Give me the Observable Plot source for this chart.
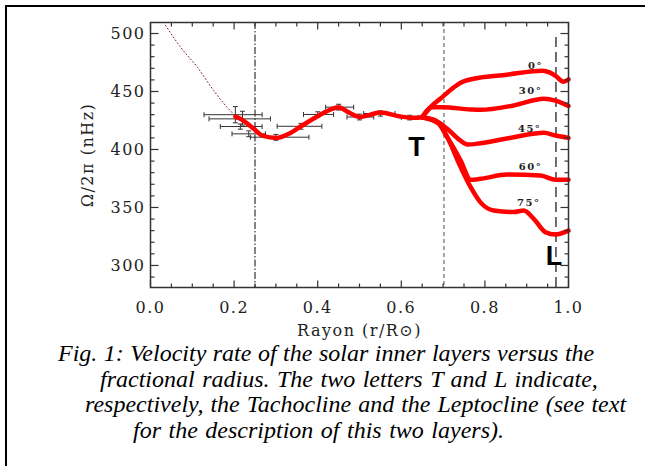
<!DOCTYPE html>
<html><head><meta charset="utf-8">
<script src="https://cdn.jsdelivr.net/npm/d3@7"></script>
<script src="https://cdn.jsdelivr.net/npm/@observablehq/plot@0.6"></script>
<style>
html,body{margin:0;padding:0;background:#fff;}
#wrap{position:relative;width:645px;height:466px;overflow:hidden;}
#border{position:absolute;left:5px;top:5px;width:700px;height:500px;border-left:2px solid #000;border-top:2px solid #000;}
#chart{position:absolute;left:0;top:0;}
.cap{position:absolute;font-family:"Liberation Serif","Times New Roman",serif;font-style:italic;font-size:24px;line-height:24px;white-space:nowrap;color:#000;}
</style></head>
<body>
<div id="wrap">
  <div id="border"></div>
  <div id="chart"></div>
  <div class="cap" style="left:58px;top:341px;word-spacing:0.5px">Fig. 1: Velocity rate of the solar inner layers versus the</div>
  <div class="cap" style="left:100px;top:367px;word-spacing:1.5px">fractional radius. The two letters T and L indicate,</div>
  <div class="cap" style="left:85px;top:392px;word-spacing:1px">respectively, the Tachocline and the Leptocline (see text</div>
  <div class="cap" style="left:133px;top:418px;word-spacing:1.5px">for the description of this two layers).</div>
</div>
<script>
// ---- data ----
const xMajorTicks = [0, 0.2, 0.4, 0.6, 0.8, 1.0];
const xMinorTicks = [0.05, 0.1, 0.15, 0.25, 0.3, 0.35, 0.45, 0.5, 0.55, 0.65, 0.7, 0.75, 0.85, 0.9, 0.95];
const yMajorTicks = [300, 350, 400, 450, 500];
const yMinorTicks = [290, 310, 320, 330, 340, 360, 370, 380, 390, 410, 420, 430, 440, 460, 470, 480, 490];

const mainR     = [0.203, 0.215, 0.247, 0.267, 0.303, 0.331, 0.363, 0.403, 0.431, 0.450, 0.474, 0.502, 0.526, 0.550, 0.598, 0.630, 0.650];
const mainOmega = [428.4, 426.5, 417.8, 412.0, 410.0, 413.5, 420.7, 429.3, 434.5, 436.5, 432.0, 428.0, 430.0, 432.0, 428.4, 427.3, 427.8];

const lat0R      = [0.650, 0.670, 0.694, 0.720, 0.742, 0.773, 0.853, 0.937, 0.955, 0.969, 0.988, 1.000];
const lat0Omega  = [427.8, 436.5, 444.0, 452.0, 457.5, 461.0, 464.5, 468.0, 466.5, 463.5, 458.5, 460.5];
const lat30R     = [0.650, 0.660, 0.672, 0.700, 0.766, 0.789, 0.869, 0.941, 0.969, 1.000];
const lat30Omega = [427.8, 433.0, 436.5, 436.5, 434.5, 434.2, 438.0, 443.7, 442.2, 437.5];
const lat45R     = [0.650, 0.682, 0.710, 0.740, 0.758, 0.789, 0.869, 0.941, 0.969, 1.000];
const lat45Omega = [427.8, 425.0, 417.8, 408.0, 404.3, 405.4, 410.6, 414.4, 412.0, 410.0];
const lat60R     = [0.650, 0.686, 0.710, 0.742, 0.766, 0.789, 0.853, 0.933, 0.969, 1.000];
const lat60Omega = [427.8, 423.5, 410.6, 390.5, 373.9, 374.7, 378.4, 377.6, 373.9, 374.0];
const lat75R     = [0.650, 0.690, 0.710, 0.742, 0.766, 0.789, 0.821, 0.869, 0.893, 0.917, 0.945, 0.969, 1.000];
const lat75Omega = [427.8, 422.2, 410.6, 384.8, 367.5, 354.6, 347.4, 346.0, 347.4, 340.2, 328.7, 326.7, 330.0];

const dotR     = [0.036, 0.072, 0.112, 0.151, 0.183, 0.200];
const dotOmega = [507.0, 488.2, 471.0, 450.9, 436.5, 430.0];

// error bars: point, horizontal extent, vertical extent
const errR     = [0.203, 0.220, 0.215, 0.235, 0.300, 0.360, 0.400, 0.450, 0.500, 0.550, 0.620];
const errOmega = [430.0, 426.4, 419.8, 413.5, 410.6, 420.0, 430.2, 436.5, 428.0, 431.0, 427.5];
const errRlo   = [0.128, 0.140, 0.167, 0.195, 0.239, 0.303, 0.366, 0.419, 0.470, 0.510, 0.600];
const errRhi   = [0.267, 0.287, 0.267, 0.275, 0.379, 0.410, 0.438, 0.486, 0.534, 0.585, 0.640];
const errOlo   = [423.0, 421.0, 417.5, 411.0, 408.0, 417.5, 427.8, 434.0, 425.5, 428.8, 425.5];
const errOhi   = [437.0, 433.0, 422.0, 416.0, 413.0, 422.5, 432.5, 439.0, 430.5, 433.2, 429.5];

const latLabels = ["0°", "30°", "45°", "60°", "75°"];
const latLabelR = [0.921, 0.909, 0.907, 0.909, 0.905];
const latLabelO = [472.4, 451.0, 417.8, 384.8, 353.7];

const layerLetters = ["T", "L"];
const layerR = [0.638, 0.967];
const layerO = [401.7, 307.8];

const dashDotR = 0.25, tachoR = 0.702, leptoR = 0.97;

// ---- build tables ----
const series = [
  ["main", mainR, mainOmega], ["0", lat0R, lat0Omega], ["30", lat30R, lat30Omega],
  ["45", lat45R, lat45Omega], ["60", lat60R, lat60Omega], ["75", lat75R, lat75Omega]
];
const lines = series.flatMap(([s, R, O]) => R.map((r, i) => ({series: s, r, omega: O[i]})));
const dotted = dotR.map((r, i) => ({r, omega: dotOmega[i]}));
const errs = errR.map((r, i) => ({r, omega: errOmega[i], rlo: errRlo[i], rhi: errRhi[i], olo: errOlo[i], ohi: errOhi[i]}));
const capsH = errs.flatMap(d => [{r: d.rlo, omega: d.omega}, {r: d.rhi, omega: d.omega}]);
const capsV = errs.flatMap(d => [{r: d.r, omega: d.olo}, {r: d.r, omega: d.ohi}]);
const lab = latLabels.map((t, i) => ({t, r: latLabelR[i], omega: latLabelO[i]}));
const letters = layerLetters.map((t, i) => ({t, r: layerR[i], omega: layerO[i]}));

// symbols (length = r in px)
const len = s => Math.sqrt(s / Math.PI);
const vbar = {draw(c, s) { const h = len(s) / 2; c.moveTo(0, -h); c.lineTo(0, h); }};
const hbar = {draw(c, s) { const h = len(s) / 2; c.moveTo(-h, 0); c.lineTo(h, 0); }};
const tickUp = {draw(c, s) { c.moveTo(0, 0); c.lineTo(0, -len(s)); }};
const tickDown = {draw(c, s) { c.moveTo(0, 0); c.lineTo(0, len(s)); }};
const tickRight = {draw(c, s) { c.moveTo(0, 0); c.lineTo(len(s), 0); }};
const tickLeft = {draw(c, s) { c.moveTo(0, 0); c.lineTo(-len(s), 0); }};

const axisCol = "#333";
const tk = (data, ch, anchor, sym, r) => Plot.dot(data, {[ch]: d => d, frameAnchor: anchor, symbol: sym, r, stroke: axisCol, strokeWidth: 1.2, fill: "none"});

const plot = Plot.plot({
  width: 645, height: 340,
  marginLeft: 150, marginRight: 77, marginTop: 22, marginBottom: 53,
  x: {domain: [0, 1], ticks: xMajorTicks, tickSize: 0, tickPadding: 14, tickFormat: d3.format(".1f"), label: null},
  y: {domain: [281, 509.5], ticks: yMajorTicks, tickSize: 0, tickPadding: 5, tickFormat: d3.format("d"), label: null},
  style: {fontFamily: "DejaVu Serif", fontSize: "16px", letterSpacing: "1.5px", color: "#222", background: "transparent"},
  marks: [
    Plot.ruleX([dashDotR], {stroke: "#333", strokeWidth: 1.2, strokeDasharray: "7,2,1.5,2"}),
    Plot.ruleX([tachoR], {stroke: "#777", strokeWidth: 1.3, strokeDasharray: "4,3"}),
    Plot.ruleX([leptoR], {y1: 281, y2: 500, stroke: "#222", strokeWidth: 1.3, strokeDasharray: "10,5"}),
    Plot.line(dotted, {x: "r", y: "omega", stroke: "#7a1a1a", strokeWidth: 1, strokeDasharray: "1,2.5", curve: "monotone-x"}),
    Plot.link(errs, {x1: "rlo", x2: "rhi", y1: "omega", y2: "omega", stroke: "#333", strokeWidth: 1}),
    Plot.link(errs, {x1: "r", x2: "r", y1: "olo", y2: "ohi", stroke: "#333", strokeWidth: 1}),
    Plot.dot(capsH, {x: "r", y: "omega", symbol: vbar, r: 5, stroke: "#333", strokeWidth: 1}),
    Plot.dot(capsV, {x: "r", y: "omega", symbol: hbar, r: 5, stroke: "#333", strokeWidth: 1}),
    Plot.line(lines, {x: "r", y: "omega", z: "series", stroke: "#f00", strokeWidth: 4.5, curve: "monotone-x", strokeLinejoin: "round", strokeLinecap: "round"}),
    Plot.text(lab, {x: "r", y: "omega", text: "t", fontSize: 10, fontWeight: "bold", fill: "#222"}),
    Plot.text(letters, {x: "r", y: "omega", text: "t", fontSize: 27, fontWeight: "bold", fontFamily: "Liberation Sans", fill: "#000"}),
    Plot.frame({stroke: axisCol, strokeWidth: 1.5}),
    tk(xMinorTicks, "x", "bottom", tickUp, 4),
    tk(xMajorTicks, "x", "bottom", tickUp, 7),
    tk(xMinorTicks, "x", "top", tickDown, 4),
    tk(xMajorTicks, "x", "top", tickDown, 7),
    tk(yMinorTicks, "y", "left", tickRight, 4),
    tk(yMajorTicks, "y", "left", tickRight, 8),
    tk(yMinorTicks, "y", "right", tickLeft, 4),
    tk(yMajorTicks, "y", "right", tickLeft, 8),
    Plot.text(["Rayon (r/R⊙)"], {frameAnchor: "bottom", textAnchor: "middle", lineAnchor: "bottom", dy: 48, fontSize: 16, fill: "#222"}),
    Plot.text(["Ω/2π (nHz)"], {frameAnchor: "left", textAnchor: "middle", lineAnchor: "middle", dx: -63, rotate: -90, fontSize: 16, fill: "#222"})
  ]
});
document.getElementById("chart").appendChild(plot);
</script>
</body></html>
